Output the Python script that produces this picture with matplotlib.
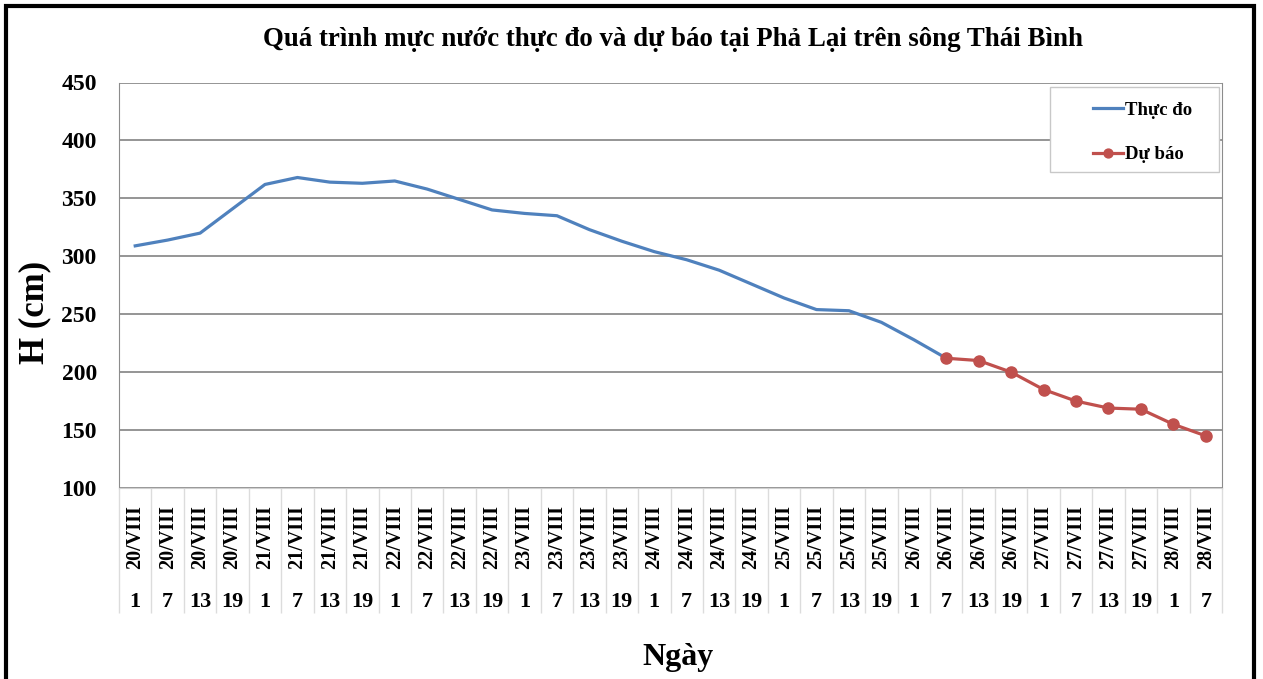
import matplotlib
matplotlib.use("Agg")
import matplotlib.pyplot as plt
import matplotlib.transforms as mtransforms
from matplotlib.patches import Rectangle

plt.rcParams["font.family"] = ["Liberation Serif", "DejaVu Serif"]
plt.rcParams["font.weight"] = "bold"

DAYS = ["20/VIII"] * 4 + ["21/VIII"] * 4 + ["22/VIII"] * 4 + ["23/VIII"] * 4 + \
       ["24/VIII"] * 4 + ["25/VIII"] * 4 + ["26/VIII"] * 4 + ["27/VIII"] * 4 + ["28/VIII"] * 2
HOURS = ["1", "7", "13", "19"] * 8 + ["1", "7"]
OBSERVED = [309, 314, 320, 341, 362, 368, 364, 363, 365, 358, 349, 340, 337, 335, 323,
            313, 304, 297, 288, 276, 264, 254, 253, 243, 228, 212]
FORECAST = [212, 210, 200, 185, 175, 169, 168, 155, 145]
FC_START = 25

W, H = 1263, 679
fig = plt.figure(figsize=(W / 100, H / 100), dpi=100)
ax = fig.add_axes([119 / W, 1 - 488 / H, (1222 - 119) / W, (488 - 82.5) / H])

x = list(range(len(DAYS)))
ax.plot(x[:len(OBSERVED)], OBSERVED, color="#4F81BD", lw=2.3, label="Thực đo")
ax.plot(x[FC_START:FC_START + len(FORECAST)], FORECAST, color="#C0504D", lw=2.3,
        marker="o", ms=8, label="Dự báo")

ax.set_xlim(-0.5, len(DAYS) - 0.5)
ax.set_ylim(100, 450)
ax.set_yticks(range(100, 451, 50))
ax.yaxis.grid(True, color="#8c8c8c", lw=1.3)
ax.set_axisbelow(True)
ax.tick_params(axis="y", length=0, pad=16, labelsize=17)
for s in ["left", "right"]:
    ax.spines[s].set_color("#8c8c8c")
ax.spines["top"].set_visible(False)
ax.spines["bottom"].set_color("#d0d0d0")

ax.set_xticks(x)
ax.set_xticklabels(DAYS, rotation=90, fontsize=14.5, va="top")
ax.tick_params(axis="x", length=0, pad=12)

# second level of the category axis: hours
trans = mtransforms.blended_transform_factory(ax.transData, ax.transAxes)
for i, h in enumerate(HOURS):
    ax.text(i, -114 / 405.5, h, transform=trans, ha="center", va="center",
            fontsize=16, clip_on=False)
ax.vlines([i - 0.5 for i in range(len(DAYS) + 1)], -125 / 405.5, 0, transform=trans,
          colors="#dcdcdc", lw=1, clip_on=False)

fig.text(673 / W, 1 - 40 / H, "Quá trình mực nước thực đo và dự báo tại Phả Lại trên sông Thái Bình",
         ha="center", va="center", fontsize=19.4, fontweight="bold")
fig.text(35 / W, 1 - 312 / H, "H (cm)", rotation=90, ha="center", va="center",
         fontsize=25, fontweight="bold")
fig.text(678 / W, 1 - 657 / H, "Ngày", ha="center", va="center", fontsize=23, fontweight="bold")

# legend box
fig.patches.append(Rectangle((1050 / W, 1 - 172 / H), 169 / W, 85 / H, transform=fig.transFigure,
                             facecolor="white", edgecolor="#c8c8c8", lw=1, zorder=3))
leg = fig.legend(loc="upper left", bbox_to_anchor=(1076 / W, 1 - 85 / H), frameon=False,
                 fontsize=13.5, handlelength=1.6, handletextpad=0.1, labelspacing=1.45,
                 markerscale=0.8)
leg.set_zorder(4)

# outer frame
fig.patches.append(Rectangle((5.5 / W, -0.1), (1254 - 5.5) / W, 1.1 - 6.5 / H,
                             transform=fig.transFigure, fill=False, edgecolor="black", lw=3))

fig.savefig("out.png", dpi=100)
